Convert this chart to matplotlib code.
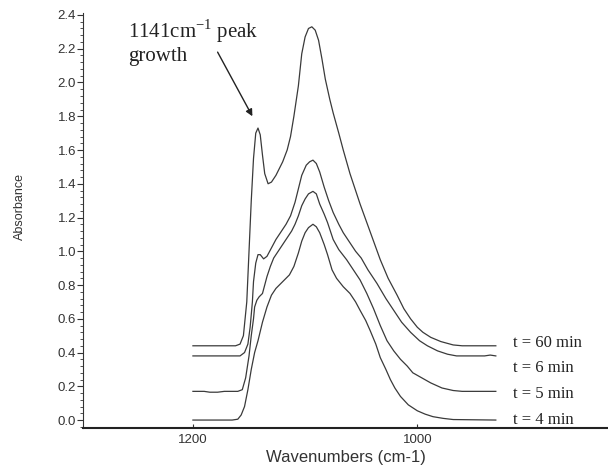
import matplotlib
matplotlib.use('Agg')
import matplotlib.pyplot as plt
from matplotlib.ticker import MultipleLocator, FormatStrFormatter

plt.rcParams['font.family'] = ['Liberation Sans', 'DejaVu Sans']
plt.rcParams['mathtext.fontset'] = 'custom'
plt.rcParams['mathtext.rm'] = 'Liberation Serif'

# t = 60 min
wn_60 = [1200, 1170, 1162, 1158, 1155, 1152, 1150, 1148, 1146, 1144, 1142, 1140, 1138,
         1136, 1133, 1130, 1126, 1120, 1116, 1113, 1110, 1106, 1103, 1100, 1097, 1094,
         1091, 1088, 1085, 1082, 1078, 1075, 1070, 1066, 1060, 1057, 1051, 1045, 1039,
         1033, 1026, 1018, 1012, 1006, 1000, 995, 988, 979, 968, 960, 930]
abs_60 = [0.44, 0.44, 0.44, 0.45, 0.50, 0.70, 1.00, 1.30, 1.55, 1.70, 1.73, 1.69, 1.57,
          1.46, 1.40, 1.41, 1.45, 1.53, 1.60, 1.68, 1.80, 1.98, 2.17, 2.27, 2.32, 2.33,
          2.31, 2.25, 2.14, 2.02, 1.90, 1.82, 1.70, 1.60, 1.46, 1.40, 1.28, 1.17, 1.06,
          0.95, 0.84, 0.74, 0.66, 0.60, 0.55, 0.52, 0.49, 0.465, 0.445, 0.44, 0.44]

# t = 6 min
wn_6 = [1200, 1165, 1158, 1154, 1151, 1149, 1147, 1146, 1144, 1142, 1140, 1137, 1134,
        1130, 1126, 1122, 1117, 1113, 1109, 1106, 1103, 1099, 1096, 1093, 1090, 1087,
        1083, 1079, 1075, 1070, 1066, 1060, 1055, 1050, 1044, 1036, 1028, 1021, 1014,
        1006, 998, 991, 982, 973, 965, 940, 935, 930]
abs_6 = [0.38, 0.38, 0.38, 0.40, 0.45, 0.55, 0.70, 0.82, 0.93, 0.98, 0.98, 0.955, 0.97,
         1.02, 1.07, 1.11, 1.16, 1.21, 1.29, 1.37, 1.45, 1.51, 1.53, 1.54, 1.52, 1.47,
         1.38, 1.30, 1.23, 1.16, 1.11, 1.05, 1.00, 0.96, 0.89, 0.81, 0.72, 0.65, 0.58,
         0.52, 0.47, 0.44, 0.41, 0.39, 0.38, 0.38, 0.385, 0.38]

# t = 5 min
wn_5 = [1200, 1190, 1185, 1178, 1172, 1160, 1156, 1153, 1150, 1148, 1146, 1145, 1143,
        1141, 1138, 1136, 1134, 1131, 1128, 1124, 1120, 1116, 1112, 1109, 1106, 1103,
        1100, 1097, 1093, 1090, 1087, 1083, 1080, 1075, 1070, 1063, 1057, 1051, 1045,
        1039, 1033, 1027, 1021, 1015, 1009, 1004, 996, 988, 978, 968, 960, 930]
abs_5 = [0.17, 0.17, 0.165, 0.165, 0.17, 0.17, 0.18, 0.25, 0.38, 0.50, 0.60, 0.67, 0.71,
         0.73, 0.75, 0.80, 0.85, 0.91, 0.96, 1.00, 1.04, 1.08, 1.12, 1.16, 1.21, 1.27,
         1.31, 1.34, 1.355, 1.34, 1.28, 1.22, 1.17, 1.07, 1.01, 0.95, 0.89, 0.83, 0.75,
         0.66, 0.56, 0.47, 0.41, 0.36, 0.32, 0.28, 0.25, 0.22, 0.19, 0.175, 0.17, 0.17]

# t = 4 min
wn_4 = [1200, 1165, 1160, 1157, 1154, 1151, 1148, 1145, 1142, 1138, 1134, 1130, 1126,
        1120, 1114, 1110, 1106, 1103, 1100, 1097, 1093, 1090, 1087, 1083, 1080, 1076,
        1072, 1066, 1060, 1055, 1051, 1046, 1042, 1037, 1033, 1028, 1024, 1020, 1015,
        1008, 1000, 993, 986, 977, 968, 930]
abs_4 = [0.0, 0.0, 0.005, 0.03, 0.08, 0.18, 0.30, 0.40, 0.47, 0.58, 0.67, 0.74, 0.78,
         0.82, 0.86, 0.91, 0.99, 1.06, 1.11, 1.14, 1.16, 1.145, 1.11, 1.04, 0.98, 0.89,
         0.84, 0.79, 0.75, 0.70, 0.65, 0.59, 0.53, 0.45, 0.37, 0.30, 0.24, 0.19, 0.14,
         0.09, 0.055, 0.035, 0.02, 0.01, 0.003, 0.0]

series = [(wn_60, abs_60, 't = 60 min'),
          (wn_6, abs_6, 't = 6 min'),
          (wn_5, abs_5, 't = 5 min'),
          (wn_4, abs_4, 't = 4 min')]
label_y = [0.455, 0.31, 0.155, 0.0]

fig = plt.figure(figsize=(6.08, 4.70), dpi=100)
ax = fig.add_axes([0.1365, 0.0894, 0.8635, 0.8823])

for (wn, ab, name), ly in zip(series, label_y):
    ax.plot(wn, ab, color='#3a3a3a', lw=0.9)
    ax.text(915, ly, name, family=['Liberation Serif'], fontsize=12,
            ha='left', va='center', color='#222222')

# annotation for the 1141 peak
ax.text(1258, 2.385, '1141cm$^{\\mathregular{-1}}$ peak\ngrowth',
        family=['Liberation Serif'], fontsize=15, ha='left', va='top',
        linespacing=1.1, color='#222222')
ax.annotate('', xy=(1147, 1.80), xytext=(1178, 2.18),
            arrowprops=dict(arrowstyle='-|>', color='#222222', lw=1.0,
                            mutation_scale=10, shrinkA=0, shrinkB=0))

ax.set_xlim(1298, 830)
ax.set_ylim(-0.047, 2.41)

ax.spines['top'].set_visible(False)
ax.spines['right'].set_visible(False)
ax.spines['left'].set_color('#333333')
ax.spines['bottom'].set_color('#222222')
ax.spines['bottom'].set_linewidth(1.5)

ax.set_xticks([1200, 1000])
ax.yaxis.set_major_locator(MultipleLocator(0.2))
ax.yaxis.set_minor_locator(MultipleLocator(0.04))
ax.yaxis.set_major_formatter(FormatStrFormatter('%.1f'))
ax.tick_params(axis='y', which='major', length=4, direction='out', labelsize=9.5,
               pad=1, colors='#333333')
ax.tick_params(axis='y', which='minor', length=2, direction='out', colors='#333333')
ax.tick_params(axis='x', which='major', length=3, direction='in', labelsize=9.5,
               pad=4, colors='#333333')

ax.set_xlabel('Wavenumbers (cm-1)', fontsize=12, color='#333333')
ax.xaxis.label.set_va('center')
ax.xaxis.set_label_coords(0.5, -0.072)
ax.set_ylabel('Absorbance', fontsize=9, color='#333333')
ax.yaxis.label.set_va('center')
ax.yaxis.set_label_coords(-0.12, 0.535)

fig.savefig('out.png', dpi=100)
